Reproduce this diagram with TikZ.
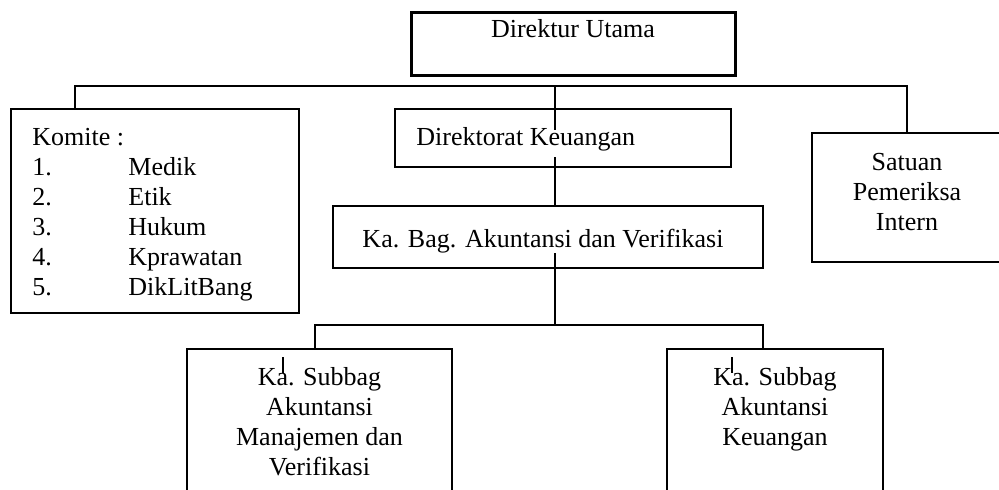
\documentclass[tikz,border=0pt]{standalone}
\usepackage{fontspec}
\setmainfont{Liberation Serif}
\usetikzlibrary{calc}

\tikzset{
  unit/.style={draw, rectangle, line width=0.8pt, inner sep=0pt},
  head/.style={unit, line width=1.5pt},
  txt/.style={inner sep=0pt, font=\fontsize{13}{15}\selectfont},
  link/.style={line width=0.8pt}
}

\begin{document}
\begin{tikzpicture}[x=0.5pt, y=-0.5pt]
  \useasboundingbox (0,0) rectangle (999,489);

  % Boxes
  \node[head, minimum width=162pt, minimum height=31.5pt] (dirut) at (573,43.5) {};
  \node[unit, minimum width=144pt, minimum height=102pt] (komite) at (155,211) {};
  \node[unit, minimum width=168pt, minimum height=29pt] (dirkeu) at (563,138) {};
  \node[unit, minimum width=215pt, minimum height=31pt] (kabag) at (548,237) {};
  \node[unit, minimum width=95pt, minimum height=64.5pt] (spi) at (907,197.5) {};
  \node[unit, minimum width=132.5pt, minimum height=75.5pt] (subman) at (319.5,424.5) {};
  \node[unit, minimum width=108pt, minimum height=75.5pt] (subkeu) at (775,424.5) {};

  % Texts
  \node[txt, anchor=base] (dirutTxt) at (573,37) {Direktur Utama};
  \node[txt, anchor=base west] (dirkeuTxt) at (416,145) {Direktorat Keuangan};
  \node[txt, anchor=base] (kabagTxt) at (543,247) {Ka. Bag. Akuntansi dan Verifikasi};
  \node[txt, anchor=base west] (komiteTxt) at (32,145) {%
    \begin{tabular}[t]{@{}p{48pt}@{}l@{}}
      \multicolumn{2}{@{}l@{}}{Komite :}\\
      1. & Medik\\
      2. & Etik\\
      3. & Hukum\\
      4. & Kprawatan\\
      5. & DikLitBang
    \end{tabular}};
  \node[txt, anchor=base] (spiTxt) at (907,170) {%
    \begin{tabular}[t]{@{}c@{}}Satuan\\Pemeriksa\\Intern\end{tabular}};
  \node[txt, anchor=base] (submanTxt) at (319.5,385) {%
    \begin{tabular}[t]{@{}c@{}}Ka. Subbag\\Akuntansi\\Manajemen dan\\Verifikasi\end{tabular}};
  \node[txt, anchor=base] (subkeuTxt) at (775,385) {%
    \begin{tabular}[t]{@{}c@{}}Ka. Subbag\\Akuntansi\\Keuangan\end{tabular}};

  % Links
  \coordinate (busW) at (75,86);
  \coordinate (busE) at (907,86);
  \coordinate (keuIn) at (555,130);
  \coordinate (keuOut) at (555,157);
  \coordinate (kabagOut) at (555,253);
  \coordinate (bus2) at (555,325);
  \coordinate (bus2W) at (315,325);
  \coordinate (bus2E) at (763,325);
  \coordinate (tickA) at (283,357);
  \coordinate (tickB) at (732,357);

  \draw[link] (busW |- komite.north) -- (busW) -- (busE) -- (spi.north);
  \draw[link] (keuIn |- busW) -- (keuIn);
  \draw[link] (keuOut) -- (keuOut |- kabag.north);
  \draw[link] (kabagOut) -- (bus2);
  \draw[link] (bus2W |- subman.north) -- (bus2W) -- (bus2E) -- (bus2E |- subkeu.north);
  \draw[link] (tickA) -- ++(0,16);
  \draw[link] (tickB) -- ++(0,16);

\end{tikzpicture}
\end{document}
